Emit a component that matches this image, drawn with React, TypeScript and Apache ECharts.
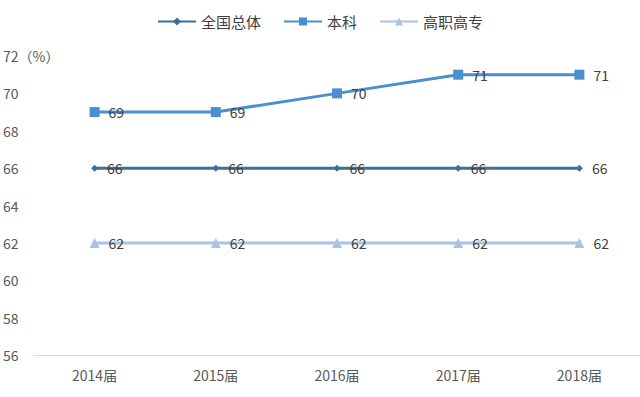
import React, { useEffect, useRef } from "react";
import * as echarts from "echarts";

const categories = ["2014届", "2015届", "2016届", "2017届", "2018届"];
const national = [66, 66, 66, 66, 66];
const undergrad = [69, 69, 70, 71, 71];
const vocational = [62, 62, 62, 62, 62];
const seriesNames = ["全国总体", "本科", "高职高专"];

export default function App() {
  const ref = useRef<HTMLDivElement>(null);
  useEffect(() => {
    const chart = echarts.init(ref.current!, null, { renderer: "svg" });
    const font = "'Microsoft YaHei', 'Noto Sans CJK SC', sans-serif";
    const label = {
      show: true,
      position: "right" as const,
      distance: 9,
      color: "#404040",
      fontSize: 14,
      fontFamily: font,
    };
    chart.setOption({
      animation: false,
      textStyle: { fontFamily: font },
      legend: {
        top: 9,
        left: "center",
        itemGap: 22,
        itemWidth: 38,
        itemHeight: 10,
        textStyle: { fontSize: 15, color: "#404040", fontFamily: font },
        data: seriesNames,
      },
      grid: { left: 34, right: 0, top: 56, bottom: 42 },
      xAxis: {
        type: "category",
        data: categories,
        boundaryGap: true,
        axisLine: { lineStyle: { color: "#d9d9d9", width: 1 } },
        axisTick: { show: false },
        axisLabel: { color: "#595959", fontSize: 14, margin: 13, fontFamily: font },
      },
      yAxis: {
        type: "value",
        min: 56,
        max: 72,
        interval: 2,
        axisLine: { show: false },
        axisTick: { show: false },
        splitLine: { show: false },
        axisLabel: {
          color: "#595959",
          fontSize: 14,
          align: "left",
          margin: 31,
          fontFamily: font,
          formatter: (v: number) => (v === 72 ? "72（%）" : String(v)),
        },
      },
      series: [
        {
          name: seriesNames[0],
          type: "line",
          data: national,
          symbol: "diamond",
          symbolSize: 7,
          lineStyle: { width: 3, color: "#3b6f9c" },
          itemStyle: { color: "#3b6f9c" },
          label,
        },
        {
          name: seriesNames[1],
          type: "line",
          data: undergrad,
          symbol: "rect",
          symbolSize: 10,
          lineStyle: { width: 3, color: "#4a8fcf" },
          itemStyle: { color: "#4a8fcf" },
          label,
        },
        {
          name: seriesNames[2],
          type: "line",
          data: vocational,
          symbol: "triangle",
          symbolSize: 10,
          lineStyle: { width: 3, color: "#a8c4e2" },
          itemStyle: { color: "#a8c4e2" },
          label,
        },
      ],
    });
    return () => chart.dispose();
  }, []);
  return <div ref={ref} style={{ width: 640, height: 397, position: "absolute", left: 0, top: 0 }} />;
}
